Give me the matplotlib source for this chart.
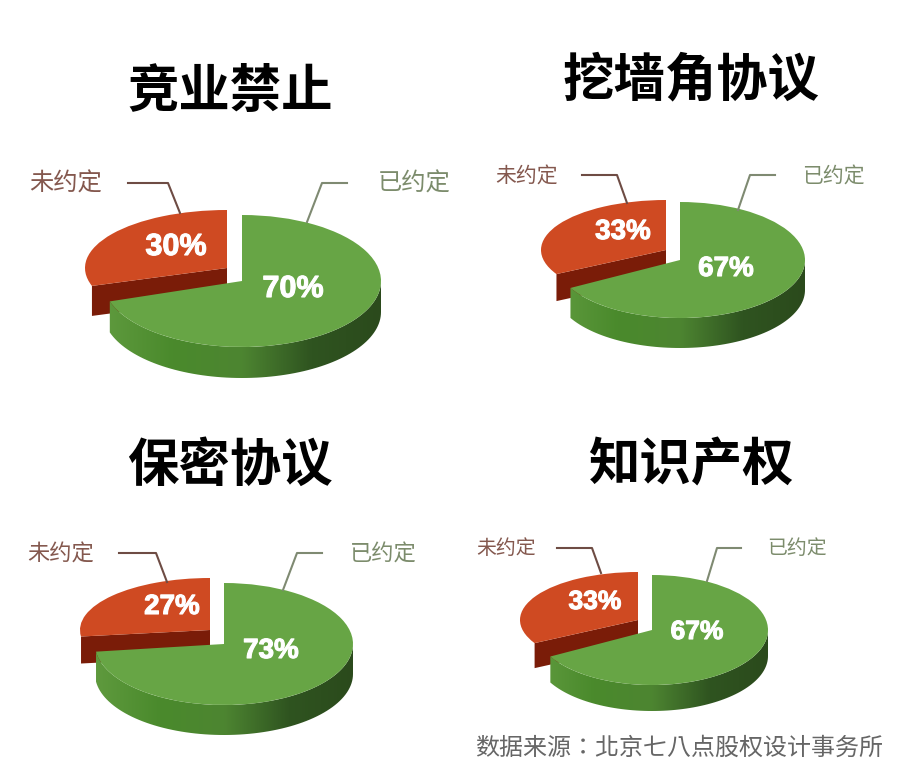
import matplotlib
matplotlib.use("Agg")
import numpy as np
import matplotlib.pyplot as plt
import matplotlib.patheffects as pe
from matplotlib.colors import LinearSegmentedColormap
from matplotlib.patches import Polygon

plt.rcParams['font.family'] = ['Noto Sans CJK SC', 'DejaVu Sans']

W, H = 897, 768

titles = ["竞业禁止", "挖墙角协议", "保密协议", "知识产权"]
agreed = [70, 67, 73, 67]
not_agreed = [30, 33, 27, 33]
agreed_label = "已约定"
not_agreed_label = "未约定"
source = "数据来源：北京七八点股权设计事务所"

# pixel layout of each pie: (cx, cy, rx, ry, depth) for the green and red slice
green_geom = [(242, 281, 139, 66, 31), (680, 260, 125, 58, 30),
              (224, 644, 129, 61, 30), (652, 630, 116, 55, 26)]
red_geom = [(227, 268, 142, 58, 30), (666, 250, 125, 50, 27),
            (210, 630, 130, 52, 27), (638, 620, 118, 48, 25)]

title_pos = [(230, 91), (691, 80), (230, 465), (691, 465)]
green_lbl = [(414, 184), (833, 177), (383, 554), (797, 549)]
red_lbl = [(66, 184), (527, 177), (61, 554), (506, 549)]
green_pct = [(293, 289), (726, 269), (271, 651), (697, 632)]
red_pct = [(176, 247), (623, 232), (172, 607), (595, 602)]
green_lead = [[(347, 183), (322, 183), (307, 222)], [(775, 175), (750, 175), (738, 210)],
              [(322, 553), (297, 553), (283, 590)], [(741, 548), (717, 548), (707, 581)]]
red_lead = [[(128, 183), (168, 183), (180, 213)], [(582, 175), (617, 175), (627, 203)],
            [(119, 553), (156, 553), (167, 582)], [(557, 548), (592, 548), (601, 573)]]
label_sizes = [17.5, 15, 16, 14.3]
pct_sizes = [22, 20, 20, 19]

GREEN = "#67a545"
RED = "#cf4a22"
RED_DARK = "#7a1c08"
wall_cmap = LinearSegmentedColormap.from_list(
    "wall", ["#5f9a3e", "#4a8a2c", "#4d8531", "#2f5420", "#2b4a1c"])


def pie_axes(fig, cx, cy, rx, ry):
    # axes where one data unit is rx pixels across and ry pixels down
    return fig.add_axes([(cx - 1.2 * rx) / W, (H - cy - 2.0 * ry) / H, 2.4 * rx / W, 3.2 * ry / H])


def fix_limits(ax):
    ax.set_aspect('auto')
    ax.set_xlim(-1.2, 1.2)
    ax.set_ylim(-2.0, 1.2)
    ax.patch.set_alpha(0)


def draw_green(fig, geom, share, other):
    cx, cy, rx, ry, depth = geom
    ax = pie_axes(fig, cx, cy, rx, ry)
    d = depth / ry
    ax.pie([share, other], radius=1, startangle=90, counterclock=False,
           colors=[GREEN, "none"], wedgeprops=dict(linewidth=0))
    fix_limits(ax)
    # side wall: lower part of the rim from the left corner round to the right
    start = 90 + 360 * other / 100
    t = np.radians(np.linspace(start, 360, 80))
    rim = np.c_[np.cos(t), np.sin(t)]
    wall = Polygon(np.vstack([rim, rim[::-1] - [0, d]]), closed=True, facecolor="none",
                   edgecolor="none", transform=ax.transData)
    ax.add_patch(wall)
    im = ax.imshow(np.linspace(0, 1, 256)[None, :], cmap=wall_cmap, aspect='auto',
                   extent=(-1, 1, -2, 1), zorder=0.5)
    im.set_clip_path(wall)
    fix_limits(ax)


def draw_red(fig, geom, share, other):
    cx, cy, rx, ry, depth = geom
    ax = pie_axes(fig, cx, cy, rx, ry)
    d = depth / ry
    # cut face below the slice edge that runs from the tip to the left corner
    a = np.radians(90 + 360 * share / 100)
    corner = [np.cos(a), np.sin(a)]
    ax.add_patch(Polygon([[0, 0], corner, [corner[0], corner[1] - d], [0, -d]], closed=True,
                         facecolor=RED_DARK, edgecolor="none", zorder=0.5))
    ax.pie([share, other], radius=1, startangle=90,
           colors=[RED, "none"], wedgeprops=dict(linewidth=0))
    fix_limits(ax)


fig = plt.figure(figsize=(W / 100, H / 100), dpi=100, facecolor="white")

for i in range(4):
    draw_red(fig, red_geom[i], not_agreed[i], agreed[i])
    draw_green(fig, green_geom[i], agreed[i], not_agreed[i])

# text and leader lines sit on a full-figure pixel axes
top = fig.add_axes([0, 0, 1, 1])
top.set_xlim(0, W)
top.set_ylim(H, 0)
top.axis("off")
top.patch.set_alpha(0)

thick = [pe.withStroke(linewidth=0.8, foreground="white")]
for i in range(4):
    top.text(*title_pos[i], titles[i], ha="center", va="center", fontsize=37,
             fontweight="bold", color="black")
    top.text(*green_lbl[i], agreed_label, ha="center", va="center",
             fontsize=label_sizes[i], color="#7c8c6c")
    top.text(*red_lbl[i], not_agreed_label, ha="center", va="center",
             fontsize=label_sizes[i], color="#84584e")
    top.text(*green_pct[i], f"{agreed[i]}%", ha="center", va="center", fontsize=pct_sizes[i],
             fontweight="bold", color="white", family="Liberation Sans", path_effects=thick)
    top.text(*red_pct[i], f"{not_agreed[i]}%", ha="center", va="center", fontsize=pct_sizes[i],
             fontweight="bold", color="white", family="Liberation Sans", path_effects=thick)
    xs, ys = zip(*green_lead[i])
    top.plot(xs, ys, color="#7f8a72", linewidth=1.5)
    xs, ys = zip(*red_lead[i])
    top.plot(xs, ys, color="#6e4c44", linewidth=1.5)

top.text(679, 748, source, ha="center", va="center", fontsize=17.3, color="#666666",
         family=['Noto Sans CJK TC', 'DejaVu Sans'])

fig.savefig("out.png", dpi=100)
plt.close(fig)
